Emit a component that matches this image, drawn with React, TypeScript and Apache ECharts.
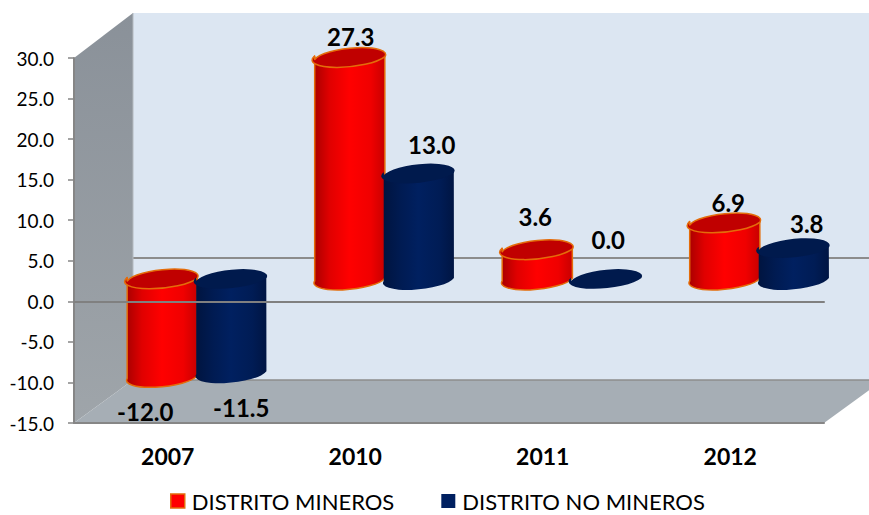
import React, { useEffect, useRef } from "react";
import * as echarts from "echarts";

const categories = ["2007", "2010", "2011", "2012"];
const mineros = [-12.0, 27.3, 3.6, 6.9];
const noMineros = [-11.5, 13.0, 0.0, 3.8];
const seriesNames = ["DISTRITO MINEROS", "DISTRITO NO MINEROS"];
const yTicks = { min: -15, max: 30, step: 5 };

// Hand-placed label offsets of the reference, relative to the top of each cylinder
const minerosLabelOffset = [[-17, 134], [1, -20], [-2, -32], [3.5, -19]];
const noMinerosLabelOffset = [[10, 130], [13, -28], [2, -38], [13, -24]];

const FONT = "Lato, Carlito, Calibri, sans-serif";
const DEPTH_X = 29;
const DEPTH_Y = -23.5;
const HALF_GAP = 34.5;
const RX = 35.2;
const RY = 9.6;
const TILT = 5.5;

const grad = (stops: [number, string][]) =>
  new echarts.graphic.LinearGradient(0, 0, 1, 0, stops.map(([offset, color]) => ({ offset, color })));

function cylinder(
  side: number,
  offsets: number[][],
  body: any,
  capFill: string,
  stroke: string | undefined,
  strokeW: number,
) {
  return (params: any, api: any) => {
    const idx = api.value(0);
    const v = api.value(1);
    const top = api.coord([idx, Math.max(v, 0)]);
    const bot = api.coord([idx, Math.min(v, 0)]);
    const cx = top[0] + DEPTH_X + side * HALF_GAP;
    const yTop = top[1] + DEPTH_Y;
    const yBot = bot[1] + DEPTH_Y;
    const t = (TILT * Math.PI) / 180;
    // tangent points of the tilted ellipse, so the sides leave it smoothly
    const u = Math.atan2(RY * Math.sin(t), RX * Math.cos(t));
    const dx = RX * Math.cos(u) * Math.cos(t) + RY * Math.sin(u) * Math.sin(t);
    const dy = RX * Math.cos(u) * Math.sin(t) - RY * Math.sin(u) * Math.cos(t);
    const arc = `${RX} ${RY} ${-TILT} 0`;
    const children: any[] = [];
    if (yBot - yTop > 0.5) {
      children.push({
        type: "path",
        shape: {
          pathData: `M${cx - dx} ${yTop + dy}L${cx - dx} ${yBot + dy}A${arc} 0 ${cx + dx} ${yBot - dy}L${cx + dx} ${yTop - dy}A${arc} 1 ${cx - dx} ${yTop + dy}Z`,
        },
        style: { fill: body, stroke, lineWidth: strokeW, lineJoin: "round" },
      });
    }
    children.push({
      type: "path",
      shape: {
        pathData: `M${cx - dx} ${yTop + dy}A${arc} 1 ${cx + dx} ${yTop - dy}A${arc} 1 ${cx - dx} ${yTop + dy}Z`,
      },
      style: { fill: capFill, stroke, lineWidth: strokeW, lineJoin: "round" },
    });
    const off = offsets[params.dataIndex];
    children.push({
      type: "text",
      style: {
        text: v.toFixed(1),
        x: cx + off[0],
        y: yTop + off[1],
        align: "center",
        verticalAlign: "middle",
        font: `bold 24px ${FONT}`,
        fill: "#000000",
      },
    });
    return { type: "group", children };
  };
}

export default function App() {
  const ref = useRef<HTMLDivElement>(null);

  useEffect(() => {
    document.body.style.margin = "0";
    const chart = echarts.init(ref.current!, null, { renderer: "svg" });
    const wallLine = "#8c8c8c";
    chart.setOption({
      animation: false,
      backgroundColor: "#ffffff",
      textStyle: { fontFamily: FONT },
      grid: { left: 74, right: 45, top: 58, bottom: 92 },
      legend: {
        left: 170,
        top: 490,
        padding: 0,
        itemWidth: 14,
        itemHeight: 14,
        itemGap: 47,
        selectedMode: false,
        textStyle: { fontSize: 22, color: "#000000", fontFamily: FONT, padding: [0, 0, 0, 2] },
        data: [
          { name: seriesNames[0], icon: "rect", itemStyle: { color: "#ff0000", borderColor: "#E46C0A", borderWidth: 1.5 } },
          { name: seriesNames[1], icon: "rect", itemStyle: { color: "#002060", borderWidth: 0 } },
        ],
      },
      xAxis: [
        {
          type: "category",
          data: categories,
          position: "bottom",
          axisLine: { onZero: false, lineStyle: { color: "#868686", width: 2 } },
          axisTick: { show: false },
          axisLabel: { margin: 21, fontSize: 23, fontWeight: "bold", color: "#000000", fontFamily: FONT },
        },
        {
          type: "category",
          data: categories,
          position: "bottom",
          z: 6,
          axisLine: { onZero: true, lineStyle: { color: "#808080", width: 2 } },
          axisTick: { show: false },
          axisLabel: { show: false },
        },
      ],
      yAxis: {
        type: "value",
        min: yTicks.min,
        max: yTicks.max,
        interval: yTicks.step,
        axisLine: { show: true, onZero: false, lineStyle: { color: "#868686", width: 2 } },
        axisTick: { show: true, length: 6, lineStyle: { color: "#868686", width: 1.5 } },
        axisLabel: {
          fontSize: 19,
          color: "#000000",
          margin: 20,
          fontFamily: FONT,
          formatter: (v: number) => v.toFixed(1),
        },
        splitLine: { show: false },
      },
      graphic: {
        elements: [
          {
            type: "polygon",
            z: -5,
            shape: { points: [[133, 13], [869, 13], [869, 380], [133, 380]] },
            style: { fill: "#DCE6F2" },
          },
          {
            type: "polygon",
            z: -4,
            shape: { points: [[74, 58], [133, 13], [133, 380], [74, 423]] },
            style: {
              fill: new echarts.graphic.LinearGradient(0, 0, 0, 1, [
                { offset: 0, color: "#8A9199" },
                { offset: 1, color: "#9FA5AA" },
              ]),
            },
          },
          {
            type: "polygon",
            z: -4,
            shape: { points: [[74, 423], [133, 380], [883, 380], [824, 423]] },
            style: { fill: "#A6AEB5" },
          },
          { type: "line", z: -3, shape: { x1: 133, y1: 380, x2: 869, y2: 380 }, style: { stroke: wallLine, lineWidth: 1.5 } },
          { type: "line", z: -3, shape: { x1: 133, y1: 258, x2: 869, y2: 258 }, style: { stroke: wallLine, lineWidth: 2 } },
          { type: "line", z: -3, shape: { x1: 133, y1: 13, x2: 133, y2: 380 }, style: { stroke: "#B4BAC0", lineWidth: 1 } },
        ],
      },
      series: [
        {
          type: "custom",
          name: seriesNames[0],
          xAxisIndex: 0,
          z: 2,
          silent: true,
          itemStyle: { color: "#ff0000" },
          data: mineros.map((v, i) => [i, v]),
          encode: { x: 0, y: 1 },
          renderItem: cylinder(
            -1,
            minerosLabelOffset,
            grad([[0, "#A80000"], [0.22, "#E00000"], [0.5, "#FF0000"], [0.8, "#F00000"], [1, "#C80000"]]),
            "#C00000",
            "#E46C0A",
            1.5,
          ),
        },
        {
          type: "custom",
          name: seriesNames[1],
          xAxisIndex: 0,
          z: 3,
          silent: true,
          itemStyle: { color: "#002060" },
          data: noMineros.map((v, i) => [i, v]),
          encode: { x: 0, y: 1 },
          renderItem: cylinder(
            1,
            noMinerosLabelOffset,
            grad([[0, "#00143F"], [0.25, "#001B52"], [0.5, "#002060"], [0.8, "#001C55"], [1, "#001543"]]),
            "#001A4D",
            undefined,
            0,
          ),
        },
      ],
    });
    return () => chart.dispose();
  }, []);

  return <div ref={ref} style={{ width: 869, height: 515 }} />;
}
